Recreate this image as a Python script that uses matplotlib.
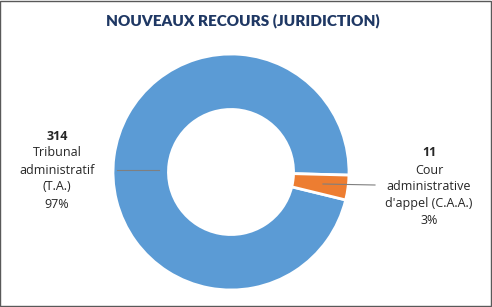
import matplotlib.pyplot as plt
from matplotlib.patches import Rectangle

# données
juridictions = [['Tribunal', 'administratif', '(T.A.)'],
                ['Cour', 'administrative', "d'appel (C.A.A.)"]]
recours = [314, 11]
couleurs = ['#5B9BD5', '#ED7D31']

plt.rcParams['font.family'] = ['Open Sans', 'DejaVu Sans']

W, H = 492, 307
fig = plt.figure(figsize=(W / 100, H / 100), dpi=100)

def fx(px):
    return px / W

def fy(py):
    return 1 - py / H

# axe carré : centre (231, 172), rayon 118 px
cx, cy, r = 231, 172, 118
ax = fig.add_axes([fx(cx - r), fy(cy + r), 2 * r / W, 2 * r / H])

total = sum(recours)
wedges, _ = ax.pie(recours, colors=couleurs, startangle=-13.7,
                   counterclock=False, radius=1.0,
                   wedgeprops=dict(width=0.47, edgecolor='white', linewidth=2))
for w in wedges:
    w.set_clip_on(False)
ax.set_xlim(-1, 1)
ax.set_ylim(-1, 1)

# étiquettes (position en px : centre x, y de la première ligne)
pos = [(57, 136), (429, 153)]
lignes = [((117, 170), (159, 170)), ((323, 184), (375, 185))]
pas = 17
for i, n in enumerate(recours):
    pct = round(100 * n / total)
    x, y = pos[i]
    textes = [str(n)] + juridictions[i] + [str(pct) + '%']
    for k, t in enumerate(textes):
        fig.text(fx(x), fy(y + k * pas), t, ha='center', va='center',
                 fontsize=9, color='#262626',
                 fontweight='bold' if k == 0 else 'normal')
    (x0, y0), (x1, y1) = lignes[i]
    fig.add_artist(plt.Line2D([fx(x0), fx(x1)], [fy(y0), fy(y1)],
                              transform=fig.transFigure, color='#7F7F7F', linewidth=0.8))

fig.text(fx(243), fy(21), 'NOUVEAUX RECOURS (JURIDICTION)', ha='center', va='center',
         fontsize=11, fontweight='heavy', color='#1F3864', family=['Lato', 'DejaVu Sans'])

fig.patches.append(Rectangle((0.001, 0.002), 0.997, 0.995, transform=fig.transFigure,
                             fill=False, edgecolor='#595959', linewidth=1))

fig.savefig('out.png', dpi=100)
